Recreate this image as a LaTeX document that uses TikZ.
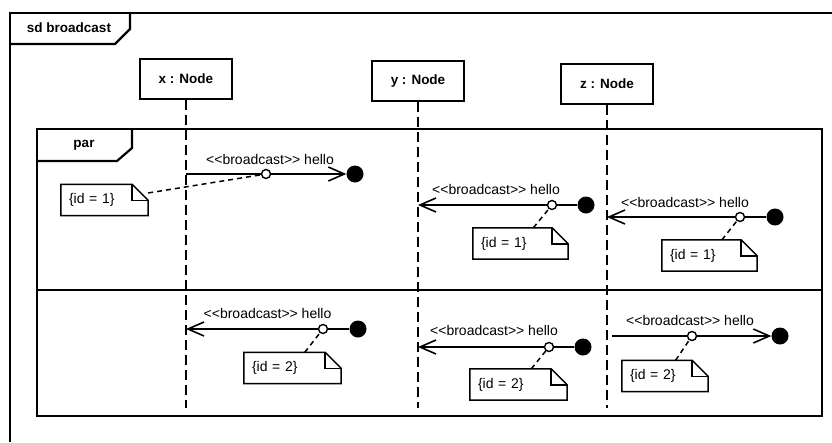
\documentclass[tikz,border=0pt]{standalone}
\usepackage{fontspec}
\newfontfamily\umlfont{Liberation Sans}
\usetikzlibrary{arrows.meta}

\newcommand{\idnote}[4]{%
  \node[notebox, text width=#3] (#1) at (#2) {#4};
  \draw[line width=1.5pt] (#1.north west) -- ([xshift=-16pt]#1.north east) -- ([yshift=-16pt]#1.north east) -- (#1.south east) -- (#1.south west) -- cycle;
  \draw[line width=1.5pt] ([xshift=-16pt]#1.north east) |- ([yshift=-16pt]#1.north east);
}

\begin{document}
\begin{tikzpicture}[x=1pt, y=-1pt,
  head/.style={draw, line width=2pt, minimum width=92pt, minimum height=40pt, inner sep=0pt, font=\umlfont\fontsize{13.5}{16}\selectfont\bfseries},
  tag/.style={inner sep=0pt, font=\umlfont\fontsize{13.5}{16}\selectfont\bfseries},
  frame/.style={line width=2.2pt},
  lifeline/.style={line width=1.6pt, dash pattern=on 10pt off 5pt},
  msg/.style={line width=1.6pt},
  msglabel/.style={inner sep=0pt, font=\umlfont\fontsize{14}{16}\selectfont},
  lost/.style={circle, fill, minimum size=17pt, inner sep=0pt},
  linkdot/.style={circle, draw, fill=white, line width=1.4pt, minimum size=9pt, inner sep=0pt},
  notebox/.style={inner xsep=8pt, inner ysep=0pt, minimum height=31pt, align=left, font=\umlfont\fontsize{14}{16}\selectfont},
  notelink/.style={line width=1.5pt, dash pattern=on 5pt off 4pt},
  tip/.tip={Straight Barb[length=16pt,width=14pt]}
]
\useasboundingbox (0,0) rectangle (832,442);

\draw[frame] (10,442) -- (10,13) -- (832,13);
\draw[frame] (10,44) -- (115,44) -- (130,29) -- (130,13);
\node[tag] (sd) at (69,28) {sd broadcast};

\draw[frame] (37,129) rectangle (822,416);
\draw[frame] (37,290) -- (822,290);
\draw[frame] (37,161) -- (117,161) -- (132,148) -- (132,129);
\node[tag] (par) at (84,145) {par};

\node[head] (xhead) at (186,79) {x : Node};
\node[head] (yhead) at (418,81) {y : Node};
\node[head] (zhead) at (607,84) {z : Node};
\coordinate (xend) at (186,408);
\coordinate (yend) at (418,408);
\coordinate (zend) at (607,408);
\draw[lifeline] (xhead) -- (xend);
\draw[lifeline] (yhead) -- (yend);
\draw[lifeline] (zhead) -- (zend);

\node[lost] (d1) at (355,174) {};
\draw[msg, -tip] (xhead |- d1) -- (d1);
\node[linkdot] (c1) at (266,174) {};
\node[msglabel] (l1) at (270,159) {<<broadcast>> hello};
\idnote{n1}{104.5,200}{71pt}{\{id = 1\}}
\draw[notelink] (n1) -- (c1);

\node[lost] (d2) at (586,205) {};
\draw[msg, tip-] (yhead |- d2) -- (d2);
\node[linkdot] (c2) at (552,205) {};
\node[msglabel] (l2) at (496,189) {<<broadcast>> hello};
\idnote{n2}{520.5,243.5}{79pt}{\{id = 1\}}
\draw[notelink] (n2) -- (c2);

\node[lost] (d3) at (775,217) {};
\draw[msg, tip-] (zhead |- d3) -- (d3);
\node[linkdot] (c3) at (740,217) {};
\node[msglabel] (l3) at (685,202) {<<broadcast>> hello};
\idnote{n3}{709.5,255.5}{79pt}{\{id = 1\}}
\draw[notelink] (n3) -- (c3);

\node[lost] (d4) at (358,329) {};
\draw[msg, tip-] (xhead |- d4) -- (d4);
\node[linkdot] (c4) at (323,329) {};
\node[msglabel] (l4) at (267.5,313) {<<broadcast>> hello};
\idnote{n4}{292.5,368}{81pt}{\{id = 2\}}
\draw[notelink] (n4) -- (c4);

\node[lost] (d5) at (583,347) {};
\draw[msg, tip-] (yhead |- d5) -- (d5);
\node[linkdot] (c5) at (549,347) {};
\node[msglabel] (l5) at (494,330) {<<broadcast>> hello};
\idnote{n5}{518.5,384.5}{81pt}{\{id = 2\}}
\draw[notelink] (n5) -- (c5);

\node[lost] (d6) at (780,336) {};
\draw[msg, -tip] ([xshift=5pt]zhead |- d6) -- (d6);
\node[linkdot] (c6) at (692,336) {};
\node[msglabel] (l6) at (690,320) {<<broadcast>> hello};
\idnote{n6}{665,376}{70pt}{\{id = 2\}}
\draw[notelink] (n6) -- (c6);
\end{tikzpicture}
\end{document}
